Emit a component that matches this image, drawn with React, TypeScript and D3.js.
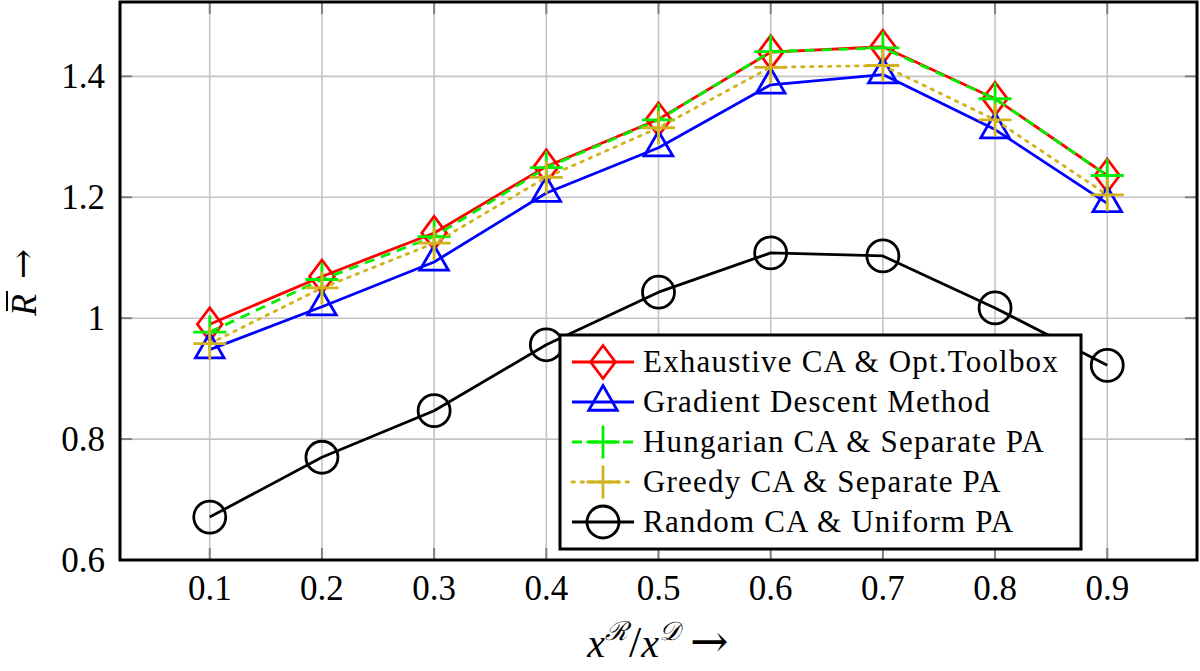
import React from "react";
import * as d3 from "d3";

const xValues = [0.1, 0.2, 0.3, 0.4, 0.5, 0.6, 0.7, 0.8, 0.9];
const exhaustive = [0.99, 1.069, 1.141, 1.251, 1.329, 1.44, 1.449, 1.363, 1.236];
const gradient = [0.948, 1.019, 1.093, 1.207, 1.282, 1.386, 1.403, 1.312, 1.19];
const hungarian = [0.977, 1.064, 1.135, 1.249, 1.328, 1.441, 1.447, 1.363, 1.236];
const greedy = [0.958, 1.05, 1.124, 1.233, 1.315, 1.415, 1.418, 1.328, 1.204];
const random = [0.671, 0.77, 0.847, 0.956, 1.043, 1.108, 1.103, 1.017, 0.922];
const xTicks = [0.1, 0.2, 0.3, 0.4, 0.5, 0.6, 0.7, 0.8, 0.9];
const yTicks = [0.6, 0.8, 1.0, 1.2, 1.4];
const seriesNames = [
  "Exhaustive CA & Opt.Toolbox",
  "Gradient Descent Method",
  "Hungarian CA & Separate PA",
  "Greedy CA & Separate PA",
  "Random CA & Uniform PA",
];

type Series = { name: string; values: number[]; color: string; dash: string; marker: string };

const series: Series[] = [
  { name: seriesNames[0], values: exhaustive, color: "#ff0000", dash: "none", marker: "diamond" },
  { name: seriesNames[1], values: gradient, color: "#0000ff", dash: "none", marker: "triangle" },
  { name: seriesNames[2], values: hungarian, color: "#00f000", dash: "10 7", marker: "plus" },
  { name: seriesNames[3], values: greedy, color: "#d2b21e", dash: "2.5 6.5", marker: "plus" },
  { name: seriesNames[4], values: random, color: "#000000", dash: "none", marker: "circle" },
];

const W = 1200;
const H = 671;
const left = 120;
const right = 1197;
const top = 2;
const bottom = 560;

const x = d3.scaleLinear().domain([0.02, 0.98]).range([left, right]);
const y = d3.scaleLinear().domain([0.6, 1.523]).range([bottom, top]);

const MR = 16.5;
const SW = 2.8;
const SERIF = { fontFamily: "Liberation Serif" };
const DJ = { fontFamily: "DejaVu Serif" };

function Marker({ type, cx, cy, color }: { type: string; cx: number; cy: number; color: string }) {
  const r = MR;
  const common = { fill: "none", stroke: color, strokeWidth: SW };
  if (type === "circle") return <circle cx={cx} cy={cy} r={16} {...common} />;
  let d = "";
  if (type === "diamond") d = `M0,${-r}L${0.75 * r},0L0,${r}L${-0.75 * r},0Z`;
  else if (type === "triangle") d = `M0,${-r}L${0.866 * r},${0.5 * r}L${-0.866 * r},${0.5 * r}Z`;
  else if (type === "plus") d = `M${-r},0H${r}M0,${-r}V${r}`;
  return <path d={d} transform={`translate(${cx},${cy})`} {...common} strokeLinejoin="miter" />;
}

export default function App() {
  const line = d3
    .line<number>()
    .x((_, i) => x(xValues[i]))
    .y((v) => y(v));
  const legX = 560;
  const legY = 335;
  const legW = 521;
  const legH = 214;
  return (
    <svg width={W} height={H} style={{ position: "absolute", left: 0, top: 0, background: "#fff" }}>
      <rect x={0} y={0} width={W} height={H} fill="#fff" />
      {xTicks.map((t) => (
        <line key={"gx" + t} x1={x(t)} x2={x(t)} y1={top} y2={bottom} stroke="#c4c4c4" strokeWidth={1.6} />
      ))}
      {yTicks.map((t) => (
        <line key={"gy" + t} x1={left} x2={right} y1={y(t)} y2={y(t)} stroke="#c4c4c4" strokeWidth={1.6} />
      ))}
      {xTicks.map((t) => (
        <g key={"tx" + t} stroke="#808080" strokeWidth={2}>
          <line x1={x(t)} x2={x(t)} y1={bottom} y2={bottom - 12} />
          <line x1={x(t)} x2={x(t)} y1={top} y2={top + 12} />
        </g>
      ))}
      {yTicks.map((t) => (
        <g key={"ty" + t} stroke="#808080" strokeWidth={2}>
          <line x1={left} x2={left + 12} y1={y(t)} y2={y(t)} />
          <line x1={right} x2={right - 12} y1={y(t)} y2={y(t)} />
        </g>
      ))}
      {series.map((s) => (
        <g key={s.name}>
          <path
            d={line(s.values) || ""}
            fill="none"
            stroke={s.color}
            strokeWidth={SW}
            strokeDasharray={s.dash}
            strokeLinejoin="round"
            strokeLinecap={s.dash.startsWith("2.5") ? "round" : "butt"}
          />
          {s.values.map((v, i) => (
            <Marker key={i} type={s.marker} cx={x(xValues[i])} cy={y(v)} color={s.color} />
          ))}
        </g>
      ))}
      <rect x={left} y={top} width={right - left} height={bottom - top} fill="none" stroke="#000" strokeWidth={3} />
      {xTicks.map((t) => (
        <text key={"lx" + t} x={x(t)} y={600} textAnchor="middle" fontSize={35} fill="#000" style={SERIF}>
          {d3.format(".1f")(t)}
        </text>
      ))}
      {yTicks.map((t) => (
        <text key={"ly" + t} x={105} y={y(t)} dy="0.34em" textAnchor="end" fontSize={35} fill="#000" style={SERIF}>
          {t === 1 ? "1" : d3.format(".1f")(t)}
        </text>
      ))}
      <text x={658} y={657} textAnchor="middle" fontSize={40} fill="#000" style={SERIF}>
        <tspan fontStyle="italic">x</tspan>
        <tspan dy={-17} fontSize={26} style={DJ} fontStyle="italic">ℛ</tspan>
        <tspan dy={17} dx={1} fontSize={44}>/</tspan>
        <tspan fontStyle="italic">x</tspan>
        <tspan dy={-17} fontSize={26} style={DJ} fontStyle="italic">𝒟</tspan>
        <tspan dy={17} dx={10} style={DJ} fontSize={46}>→</tspan>
      </text>
      <g transform="translate(36,283) rotate(-90)">
        <text x={-33} y={0} fontSize={36} fontStyle="italic" fill="#000" style={SERIF}>R</text>
        <line x1={-28} x2={-8} y1={-29} y2={-29} stroke="#000" strokeWidth={2} />
        <text x={4} y={-1} fontSize={36} fill="#000" style={DJ}>→</text>
      </g>
      <rect x={legX} y={legY} width={legW} height={legH} fill="#fff" stroke="#000" strokeWidth={3} />
      {series.map((s, i) => {
        const cy = 362 + 40 * i;
        return (
          <g key={"leg" + i}>
            <line
              x1={572}
              x2={634}
              y1={cy}
              y2={cy}
              stroke={s.color}
              strokeWidth={SW}
              strokeDasharray={s.dash}
              strokeLinecap={s.dash.startsWith("2.5") ? "round" : "butt"}
            />
            <Marker type={s.marker} cx={603} cy={cy} color={s.color} />
            <text x={643} y={cy + 10} fontSize={31} letterSpacing={1.2} fill="#000" style={SERIF}>
              {s.name}
            </text>
          </g>
        );
      })}
    </svg>
  );
}
